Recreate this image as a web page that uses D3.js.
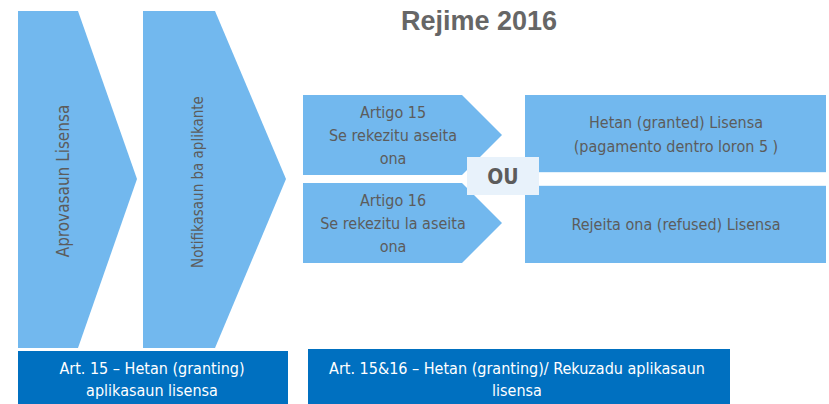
<!DOCTYPE html>
<html>
<head>
<meta charset="utf-8">
<script src="https://cdn.jsdelivr.net/npm/d3@7"></script>
<style>
  html, body { margin: 0; padding: 0; background: #fff; }
  svg text { font-family: "Liberation Sans Narrow", "DejaVu Sans Condensed", "Roboto", sans-serif; }
</style>
</head>
<body>
<div id="chart"></div>
<script>
// diagram texts
const title = 'Rejime 2016';
const stages = ['Aprovasaun Lisensa', 'Notifikasaun ba aplikante'];
const articles = [
  ['Artigo 15', 'Se rekezitu aseita', 'ona'],
  ['Artigo 16', 'Se rekezitu la aseita', 'ona']
];
const outcomes = [
  ['Hetan (granted) Lisensa', '(pagamento  dentro loron 5 )'],
  ['Rejeita ona  (refused) Lisensa']
];
const orLabel = 'OU';
const footers = [
  ['Art. 15 \u2013 Hetan (granting)', 'aplikasaun  lisensa'],
  ['Art. 15&16 \u2013 Hetan (granting)/ Rekuzadu aplikasaun', 'lisensa']
];

const width = 829, height = 404;
const light = '#72b8ee', dark = '#0070c0', grey = '#5c5c5c';

const svg = d3.select('#chart').append('svg')
  .attr('width', width).attr('height', height);

const line = d3.line();

// big chevrons
const stageX = d3.scaleOrdinal().domain(stages).range([18, 143]);
const stageTop = 11, stageBot = 348, stageMid = 179;
stages.forEach((s, i) => {
  const x = stageX(s);
  const body = i === 0 ? 60 : 72, tip = i === 0 ? 119 : 143;
  const pts = [[x, stageTop], [x + body, stageTop], [x + tip, stageMid],
    [x + body, stageBot], [x, stageBot]];
  svg.append('path').attr('d', line(pts) + 'Z').attr('fill', light);
});
svg.selectAll('.stage').data(stages).enter().append('text')
  .attr('transform', (d, i) => `translate(${[69, 203][i]},${[181, 182][i]}) rotate(-90)`)
  .attr('text-anchor', 'middle')
  .attr('fill', grey)
  .attr('font-size', (d, i) => i === 0 ? 17 : 15)
  .text(d => d);

// article arrows
const artY = d3.scaleBand().domain(d3.range(articles.length)).range([95, 263]).paddingInner(0.09);
const artX0 = 303, artX1 = 462, artTip = 502;
articles.forEach((lines, i) => {
  const y0 = artY(i), y1 = y0 + artY.bandwidth(), ym = (y0 + y1) / 2;
  svg.append('path')
    .attr('d', line([[artX0, y0], [artX1, y0], [artTip, ym], [artX1, y1], [artX0, y1]]) + 'Z')
    .attr('fill', light);
  const t = svg.append('text').attr('text-anchor', 'middle').attr('fill', grey).attr('font-size', 16);
  lines.forEach((l, j) => {
    t.append('tspan').attr('x', 393).attr('y', ym - 17 + j * 23).text(l);
  });
});

// outcome boxes
const outY = d3.scaleBand().domain(d3.range(outcomes.length)).range([95, 263]).paddingInner(0.15);
const outX0 = 525, outX1 = 826;
outcomes.forEach((lines, i) => {
  const y0 = outY(i), y1 = y0 + outY.bandwidth(), ym = (y0 + y1) / 2;
  svg.append('rect').attr('x', outX0).attr('y', y0)
    .attr('width', outX1 - outX0).attr('height', y1 - y0).attr('fill', light);
  const t = svg.append('text').attr('text-anchor', 'middle').attr('fill', grey).attr('font-size', 16);
  const off = (lines.length - 1) * 12;
  lines.forEach((l, j) => {
    t.append('tspan').attr('x', 676).attr('y', ym + 6 - off + j * 24).text(l);
  });
});

// OU box
svg.append('rect').attr('x', 467).attr('y', 157).attr('width', 72).attr('height', 38)
  .attr('fill', '#e8f2fb');
svg.append('text').attr('x', 503).attr('y', 184).attr('text-anchor', 'middle')
  .attr('fill', grey).attr('font-size', 21).attr('font-weight', 'bold').text(orLabel);

// footer boxes
const footX = [[18, 288], [308, 730]];
footers.forEach((lines, i) => {
  const [x0, x1] = footX[i];
  const y0 = i === 0 ? 351 : 349;
  svg.append('rect').attr('x', x0).attr('y', y0)
    .attr('width', x1 - x0).attr('height', height - y0).attr('fill', dark);
  const t = svg.append('text').attr('text-anchor', 'middle').attr('fill', '#fff').attr('font-size', 16);
  lines.forEach((l, j) => {
    t.append('tspan').attr('x', (x0 + x1) / 2 + (i === 0 ? -1 : -2)).attr('y', 374 + j * 22).text(l);
  });
});

// title
svg.append('text').attr('x', 479).attr('y', 30).attr('text-anchor', 'middle')
  .attr('fill', '#666').attr('font-size', 27).attr('font-weight', 'bold')
  .style('font-family', '"Liberation Sans", Arial, sans-serif')
  .text(title);
</script>
</body>
</html>
